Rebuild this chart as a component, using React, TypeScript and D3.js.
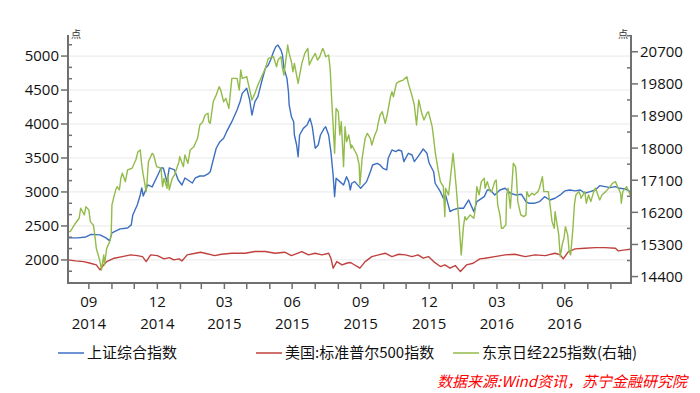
import React from "react";
import * as d3 from "d3";

// 上证综合指数 (left axis)
const shanghai: [string, number][] = [
  ["2014-09-02", 2324], ["2014-09-15", 2324], ["2014-09-26", 2338], ["2014-10-03", 2375], ["2014-10-15", 2368],
  ["2014-10-23", 2324], ["2014-10-28", 2280], ["2014-10-31", 2397], ["2014-11-11", 2456], ["2014-11-21", 2470],
  ["2014-11-26", 2515], ["2014-11-28", 2662], ["2014-12-04", 2809], ["2014-12-08", 2956], ["2014-12-10", 3059],
  ["2014-12-12", 2941], ["2014-12-18", 3103], ["2014-12-24", 3074], ["2014-12-31", 3235], ["2015-01-05", 3353],
  ["2015-01-08", 3353], ["2015-01-13", 3147], ["2015-01-16", 3353], ["2015-01-23", 3324], ["2015-01-28", 3176],
  ["2015-02-02", 3103], ["2015-02-06", 3206], ["2015-02-16", 3132], ["2015-02-20", 3206], ["2015-02-26", 3235],
  ["2015-03-04", 3235], ["2015-03-09", 3265], ["2015-03-12", 3298], ["2015-03-16", 3471], ["2015-03-20", 3643],
  ["2015-03-25", 3740], ["2015-03-30", 3790], ["2015-04-03", 3887], ["2015-04-10", 4034], ["2015-04-17", 4206],
  ["2015-04-21", 4328], ["2015-04-24", 4451], ["2015-04-30", 4525], ["2015-05-04", 4353], ["2015-05-07", 4132],
  ["2015-05-11", 4328], ["2015-05-15", 4402], ["2015-05-20", 4622], ["2015-05-25", 4819], ["2015-05-29", 4868],
  ["2015-06-01", 4941], ["2015-06-05", 5063], ["2015-06-08", 5137], ["2015-06-11", 5162], ["2015-06-15", 5088],
  ["2015-06-17", 5015], ["2015-06-19", 4819], ["2015-06-23", 4672], ["2015-06-25", 4475], ["2015-06-26", 4279],
  ["2015-06-29", 4107], ["2015-07-02", 4034], ["2015-07-03", 3838], ["2015-07-06", 3691], ["2015-07-08", 3519],
  ["2015-07-10", 3838], ["2015-07-15", 3936], ["2015-07-20", 3985], ["2015-07-24", 4083], ["2015-07-27", 3961],
  ["2015-07-31", 3643], ["2015-08-04", 3691], ["2015-08-07", 3838], ["2015-08-12", 3936], ["2015-08-14", 3961],
  ["2015-08-18", 3838], ["2015-08-21", 3593], ["2015-08-24", 3250], ["2015-08-26", 2931], ["2015-08-28", 3201],
  ["2015-09-02", 3152], ["2015-09-07", 3103], ["2015-09-11", 3225], ["2015-09-14", 3152], ["2015-09-16", 3029],
  ["2015-09-18", 3128], ["2015-09-22", 3152], ["2015-09-28", 3078], ["2015-09-30", 3054], ["2015-10-08", 3152],
  ["2015-10-13", 3298], ["2015-10-16", 3397], ["2015-10-22", 3422], ["2015-10-26", 3397], ["2015-10-30", 3348],
  ["2015-11-04", 3324], ["2015-11-06", 3495], ["2015-11-11", 3618], ["2015-11-16", 3593], ["2015-11-20", 3618],
  ["2015-11-24", 3603], ["2015-11-27", 3446], ["2015-12-03", 3569], ["2015-12-08", 3544], ["2015-12-11", 3446],
  ["2015-12-16", 3519], ["2015-12-23", 3632], ["2015-12-28", 3569], ["2015-12-31", 3422], ["2016-01-06", 3298],
  ["2016-01-08", 3128], ["2016-01-15", 3004], ["2016-01-19", 2907], ["2016-01-22", 2956], ["2016-01-28", 2710],
  ["2016-02-01", 2735], ["2016-02-08", 2760], ["2016-02-15", 2760], ["2016-02-22", 2882], ["2016-02-26", 2784],
  ["2016-02-29", 2710], ["2016-03-04", 2857], ["2016-03-14", 2931], ["2016-03-18", 3029], ["2016-03-22", 3029],
  ["2016-03-28", 2956], ["2016-04-04", 3029], ["2016-04-11", 3054], ["2016-04-18", 2981], ["2016-04-25", 2956],
  ["2016-05-03", 2966], ["2016-05-09", 2857], ["2016-05-13", 2833], ["2016-05-20", 2833], ["2016-05-27", 2857],
  ["2016-06-03", 2931], ["2016-06-10", 2882], ["2016-06-17", 2907], ["2016-06-24", 2956], ["2016-06-30", 3015],
  ["2016-07-07", 3029], ["2016-07-14", 3015], ["2016-07-21", 3029], ["2016-07-27", 2981], ["2016-08-03", 3004],
  ["2016-08-10", 3029], ["2016-08-16", 3093], ["2016-08-23", 3078], ["2016-08-30", 3063], ["2016-09-06", 3078],
  ["2016-09-12", 3054], ["2016-09-19", 3044], ["2016-09-26", 3004],
];

// 美国:标准普尔500指数 (left axis)
const sp500: [string, number][] = [
  ["2014-09-02", 2000], ["2014-09-12", 1985], ["2014-09-23", 1975], ["2014-10-02", 1951], ["2014-10-10", 1926],
  ["2014-10-15", 1853], ["2014-10-20", 1926], ["2014-10-24", 1975], ["2014-11-03", 2025], ["2014-11-14", 2049],
  ["2014-11-25", 2074], ["2014-12-04", 2063], ["2014-12-11", 2049], ["2014-12-16", 1975], ["2014-12-22", 2074],
  ["2014-12-31", 2063], ["2015-01-09", 2015], ["2015-01-16", 2034], ["2015-01-22", 2000], ["2015-01-29", 2015],
  ["2015-02-02", 1985], ["2015-02-09", 2074], ["2015-02-20", 2098], ["2015-02-27", 2113], ["2015-03-05", 2098],
  ["2015-03-18", 2063], ["2015-03-27", 2083], ["2015-04-10", 2098], ["2015-04-28", 2098], ["2015-05-11", 2123],
  ["2015-05-25", 2123], ["2015-06-07", 2098], ["2015-06-20", 2113], ["2015-06-29", 2063], ["2015-07-13", 2123],
  ["2015-07-22", 2074], ["2015-07-31", 2098], ["2015-08-09", 2074], ["2015-08-18", 2098], ["2015-08-21", 2025],
  ["2015-08-24", 1878], ["2015-08-29", 1975], ["2015-09-05", 1926], ["2015-09-11", 1951], ["2015-09-16", 1961],
  ["2015-09-18", 1951], ["2015-09-29", 1878], ["2015-10-06", 1975], ["2015-10-15", 2049], ["2015-10-24", 2074],
  ["2015-11-02", 2098], ["2015-11-11", 2049], ["2015-11-20", 2083], ["2015-11-29", 2074], ["2015-12-08", 2049],
  ["2015-12-16", 2074], ["2015-12-23", 2025], ["2015-12-30", 2049], ["2016-01-06", 1975], ["2016-01-15", 1902],
  ["2016-01-21", 1926], ["2016-01-28", 1878], ["2016-02-04", 1917], ["2016-02-11", 1828], ["2016-02-19", 1926],
  ["2016-02-28", 1951], ["2016-03-08", 2015], ["2016-03-15", 2025], ["2016-03-28", 2049], ["2016-04-11", 2074],
  ["2016-04-24", 2083], ["2016-05-08", 2049], ["2016-05-21", 2074], ["2016-06-04", 2063], ["2016-06-17", 2098],
  ["2016-06-24", 2074], ["2016-06-28", 2015], ["2016-07-05", 2123], ["2016-07-14", 2162], ["2016-07-27", 2172],
  ["2016-08-10", 2181], ["2016-08-23", 2181], ["2016-09-06", 2172], ["2016-09-10", 2132], ["2016-09-19", 2147],
  ["2016-09-26", 2157],
];

// 东京日经225指数 (right axis)
const nikkei: [string, number][] = [
  ["2014-09-02", 15660], ["2014-09-05", 15660], ["2014-09-12", 15895], ["2014-09-17", 16035], ["2014-09-19", 16315],
  ["2014-09-24", 16128], ["2014-09-26", 16360], ["2014-09-30", 16268], ["2014-10-02", 15940], ["2014-10-06", 15848],
  ["2014-10-08", 15568], ["2014-10-10", 15195], ["2014-10-15", 14820], ["2014-10-17", 14588], ["2014-10-20", 15008],
  ["2014-10-21", 14728], ["2014-10-24", 15195], ["2014-10-28", 15380], ["2014-10-30", 15568], ["2014-10-31", 16408],
  ["2014-11-05", 16828], ["2014-11-07", 16920], ["2014-11-10", 16828], ["2014-11-12", 17155], ["2014-11-14", 17295],
  ["2014-11-18", 17060], ["2014-11-21", 17388], ["2014-11-27", 17435], ["2014-12-02", 17668], ["2014-12-05", 17900],
  ["2014-12-08", 17948], ["2014-12-10", 17528], ["2014-12-12", 17248], ["2014-12-16", 16780], ["2014-12-17", 17015],
  ["2014-12-19", 17620], ["2014-12-24", 17855], ["2014-12-26", 17808], ["2014-12-30", 17480], ["2015-01-05", 17435],
  ["2015-01-06", 17155], ["2015-01-07", 16920], ["2015-01-09", 17155], ["2015-01-13", 16875], ["2015-01-14", 17248],
  ["2015-01-16", 16828], ["2015-01-20", 17155], ["2015-01-23", 17248], ["2015-01-29", 17620], ["2015-01-30", 17760],
  ["2015-02-04", 17480], ["2015-02-06", 17808], ["2015-02-10", 17575], ["2015-02-13", 17948], ["2015-02-18", 18040],
  ["2015-02-23", 18275], ["2015-02-26", 18648], ["2015-03-02", 18740], ["2015-03-05", 18928], ["2015-03-09", 18975],
  ["2015-03-10", 18740], ["2015-03-12", 18695], ["2015-03-16", 19300], ["2015-03-20", 19488], ["2015-03-24", 19720],
  ["2015-03-26", 19628], ["2015-03-30", 19300], ["2015-04-02", 19395], ["2015-04-06", 19115], ["2015-04-10", 19955],
  ["2015-04-17", 19955], ["2015-04-20", 19628], ["2015-04-22", 20188], ["2015-04-24", 19955], ["2015-04-30", 20000],
  ["2015-05-04", 19628], ["2015-05-07", 19348], ["2015-05-11", 19535], ["2015-05-15", 19768], ["2015-05-20", 20000],
  ["2015-05-25", 20235], ["2015-05-29", 20515], ["2015-06-05", 20560], ["2015-06-09", 20280], ["2015-06-11", 20468],
  ["2015-06-15", 20560], ["2015-06-17", 20235], ["2015-06-19", 20048], ["2015-06-24", 20888], ["2015-06-26", 20655],
  ["2015-06-29", 20420], ["2015-07-01", 20140], ["2015-07-03", 20375], ["2015-07-08", 19815], ["2015-07-13", 20375],
  ["2015-07-17", 20655], ["2015-07-21", 20795], ["2015-07-23", 20328], ["2015-07-27", 20515], ["2015-07-31", 20655],
  ["2015-08-03", 20468], ["2015-08-06", 20560], ["2015-08-10", 20795], ["2015-08-12", 20700], ["2015-08-14", 20560],
  ["2015-08-18", 20608], ["2015-08-20", 20235], ["2015-08-22", 19395], ["2015-08-24", 18648], ["2015-08-26", 17855],
  ["2015-08-28", 19115], ["2015-08-31", 19020], ["2015-09-02", 18368], ["2015-09-04", 18740], ["2015-09-07", 17480],
  ["2015-09-09", 18600], ["2015-09-11", 18180], ["2015-09-14", 18368], ["2015-09-17", 17995], ["2015-09-18", 18088],
  ["2015-09-25", 17808], ["2015-09-28", 17528], ["2015-09-29", 16968], ["2015-10-02", 17715], ["2015-10-06", 18275],
  ["2015-10-09", 18415], ["2015-10-13", 18275], ["2015-10-15", 18088], ["2015-10-19", 18368], ["2015-10-22", 18508],
  ["2015-10-23", 18648], ["2015-10-26", 18928], ["2015-10-29", 19020], ["2015-11-02", 18695], ["2015-11-05", 18975],
  ["2015-11-09", 19440], ["2015-11-11", 19580], ["2015-11-13", 19440], ["2015-11-17", 19815], ["2015-11-20", 19860],
  ["2015-11-26", 19908], ["2015-12-01", 20000], ["2015-12-03", 19815], ["2015-12-07", 19535], ["2015-12-10", 19300],
  ["2015-12-11", 19208], ["2015-12-14", 18648], ["2015-12-17", 19348], ["2015-12-21", 18975], ["2015-12-24", 18788],
  ["2015-12-28", 18975], ["2015-12-30", 19020], ["2016-01-04", 18600], ["2016-01-06", 18275], ["2016-01-08", 17900],
  ["2016-01-12", 17388], ["2016-01-15", 17060], ["2016-01-19", 16920], ["2016-01-21", 16080], ["2016-01-22", 16875],
  ["2016-01-26", 16688], ["2016-01-28", 17060], ["2016-02-01", 17855], ["2016-02-03", 17435], ["2016-02-05", 16968],
  ["2016-02-09", 15940], ["2016-02-12", 15008], ["2016-02-15", 15800], ["2016-02-17", 16080], ["2016-02-19", 15988],
  ["2016-02-24", 16128], ["2016-02-29", 16035], ["2016-03-02", 16315], ["2016-03-04", 16920], ["2016-03-07", 16688],
  ["2016-03-10", 17060], ["2016-03-14", 17155], ["2016-03-15", 16875], ["2016-03-18", 17060], ["2016-03-22", 16780],
  ["2016-03-24", 16780], ["2016-03-28", 17060], ["2016-03-30", 17108], ["2016-04-01", 16408], ["2016-04-04", 16128],
  ["2016-04-06", 15755], ["2016-04-08", 15755], ["2016-04-12", 15848], ["2016-04-13", 16688], ["2016-04-15", 16875],
  ["2016-04-18", 16315], ["2016-04-22", 17575], ["2016-04-25", 17480], ["2016-04-26", 17248], ["2016-04-28", 16500],
  ["2016-05-02", 16128], ["2016-05-06", 16080], ["2016-05-09", 16128], ["2016-05-10", 16780], ["2016-05-13", 16640],
  ["2016-05-17", 16735], ["2016-05-20", 16688], ["2016-05-25", 16780], ["2016-05-27", 16875], ["2016-05-31", 17200],
  ["2016-06-02", 16780], ["2016-06-06", 16780], ["2016-06-08", 16780], ["2016-06-10", 16455], ["2016-06-13", 15940],
  ["2016-06-16", 15755], ["2016-06-17", 16220], ["2016-06-22", 15568], ["2016-06-24", 14960], ["2016-06-27", 15335],
  ["2016-06-29", 15475], ["2016-07-01", 15800], ["2016-07-04", 15568], ["2016-07-06", 15100], ["2016-07-08", 15008],
  ["2016-07-11", 15755], ["2016-07-13", 16408], ["2016-07-15", 16688], ["2016-07-19", 16780], ["2016-07-21", 16688],
  ["2016-07-22", 16595], ["2016-07-27", 16780], ["2016-07-29", 16455], ["2016-08-01", 16688], ["2016-08-04", 16500],
  ["2016-08-08", 16780], ["2016-08-10", 16875], ["2016-08-12", 16780], ["2016-08-16", 16548], ["2016-08-19", 16688],
  ["2016-08-24", 16780], ["2016-08-30", 16920], ["2016-09-02", 17015], ["2016-09-06", 17060], ["2016-09-09", 16920],
  ["2016-09-13", 16735], ["2016-09-14", 16455], ["2016-09-16", 16780], ["2016-09-21", 16920], ["2016-09-26", 16688],
];

const leftTicks = [2000, 2500, 3000, 3500, 4000, 4500, 5000];
const rightTicks = [14400, 15300, 16200, 17100, 18000, 18900, 19800, 20700];
// quarter-end labels on the date axis
const quarterTicks = ["2014-09-30", "2014-12-31", "2015-03-31", "2015-06-30", "2015-09-30", "2015-12-31", "2016-03-31", "2016-06-30"];

const legendItems = [
  { name: "上证综合指数", color: "#3d6fc0", x: 58 },
  { name: "美国:标准普尔500指数", color: "#c0403c", x: 256 },
  { name: "东京日经225指数(右轴)", color: "#93bb4a", x: 453 },
];

const W = 700, H = 393;
const plot = { left: 68, right: 631, top: 35, bottom: 283 };
const axisColor = "#707070";
const font = "'Open Sans', 'Noto Sans CJK SC', sans-serif";
const cjk = "'Noto Sans CJK SC', 'Open Sans', sans-serif";

export default function App() {
  const parse = d3.timeParse("%Y-%m-%d");
  const x = d3.scaleTime()
    .domain([parse("2014-09-02")!, parse("2016-09-27")!])
    .range([plot.left, plot.right]);
  const yL = d3.scaleLinear().domain([1660, 5310]).range([plot.bottom, plot.top]);
  const yR = d3.scaleLinear().domain([14220, 21170]).range([plot.bottom, plot.top]);

  const lineL = d3.line<[string, number]>().x(d => x(parse(d[0])!)).y(d => yL(d[1]));
  const lineR = d3.line<[string, number]>().x(d => x(parse(d[0])!)).y(d => yR(d[1]));

  // month-end ticks
  const monthEnds = d3.timeMonth
    .range(new Date(2014, 8, 1), new Date(2016, 8, 1))
    .map(m => d3.timeDay.offset(d3.timeMonth.offset(m, 1), -1));

  const leftMinor = leftTicks.concat([1500])
    .flatMap(v => [v + 500 / 3, v + 1000 / 3])
    .filter(v => v > 1700 && v < 5300);
  const rightMinor = rightTicks.map(v => v + 450).filter(v => v < 21170);

  return (
    <svg width={W} height={H} style={{ position: "absolute", left: 0, top: 0, background: "#fff" }}>
      {/* gridlines */}
      {leftTicks.map(v => (
        <line key={"g" + v} x1={plot.left} x2={plot.right} y1={yL(v)} y2={yL(v)} stroke="#e8e8e8" strokeWidth={1} />
      ))}

      {/* series */}
      <path d={lineL(shanghai) ?? ""} fill="none" stroke={legendItems[0].color} strokeWidth={1.4} strokeLinejoin="round" />
      <path d={lineL(sp500) ?? ""} fill="none" stroke={legendItems[1].color} strokeWidth={1.4} strokeLinejoin="round" />
      <path d={lineR(nikkei) ?? ""} fill="none" stroke={legendItems[2].color} strokeWidth={1.4} strokeLinejoin="round" />

      {/* axes */}
      <line x1={plot.left} x2={plot.left} y1={plot.top} y2={plot.bottom} stroke={axisColor} strokeWidth={2} />
      <line x1={plot.right} x2={plot.right} y1={plot.top} y2={plot.bottom} stroke={axisColor} strokeWidth={2} />
      <line x1={plot.left - 1} x2={plot.right + 1} y1={plot.bottom} y2={plot.bottom} stroke={axisColor} strokeWidth={2} />

      {leftTicks.map(v => (
        <g key={"l" + v}>
          <line x1={plot.left - 7} x2={plot.left} y1={yL(v)} y2={yL(v)} stroke={axisColor} strokeWidth={1.5} />
          <text x={plot.left - 9} y={yL(v)} dy="0.36em" textAnchor="end" fontSize={15} fontFamily={font} fill="#111">{v}</text>
        </g>
      ))}
      {leftMinor.map(v => (
        <line key={"lm" + v} x1={plot.left} x2={plot.left + 4} y1={yL(v)} y2={yL(v)} stroke={axisColor} strokeWidth={1.5} />
      ))}

      {rightTicks.map(v => (
        <g key={"r" + v}>
          <line x1={plot.right} x2={plot.right + 7} y1={yR(v)} y2={yR(v)} stroke={axisColor} strokeWidth={1.5} />
          <text x={plot.right + 9} y={yR(v)} dy="0.36em" textAnchor="start" fontSize={15} fontFamily={font} fill="#111">{v}</text>
        </g>
      ))}
      {rightMinor.map(v => (
        <line key={"rm" + v} x1={plot.right - 4} x2={plot.right} y1={yR(v)} y2={yR(v)} stroke={axisColor} strokeWidth={1.5} />
      ))}

      {monthEnds.map(d => (
        <line key={"m" + d.getTime()} x1={x(d)} x2={x(d)} y1={plot.bottom} y2={plot.bottom + 6} stroke={axisColor} strokeWidth={1.5} />
      ))}
      {quarterTicks.map(s => {
        const d = parse(s)!;
        return (
          <g key={"q" + s}>
            <text x={x(d)} y={307} textAnchor="middle" fontSize={15} fontFamily={font} fill="#111">{d3.timeFormat("%m")(d)}</text>
            <text x={x(d)} y={329} textAnchor="middle" fontSize={15} fontFamily={font} fill="#111">{d3.timeFormat("%Y")(d)}</text>
          </g>
        );
      })}

      {/* unit labels */}
      <text x={plot.left + 3} y={38} fontSize={10} fontFamily={cjk} fill="#333">点</text>
      <text x={plot.right - 3} y={38} textAnchor="end" fontSize={10} fontFamily={cjk} fill="#333">点</text>

      {/* legend */}
      {legendItems.map(item => (
        <g key={item.name}>
          <line x1={item.x} x2={item.x + 26} y1={353} y2={353} stroke={item.color} strokeWidth={1.5} />
          <text x={item.x + 29} y={358} fontSize={15} fontFamily={cjk} fill="#111">{item.name}</text>
        </g>
      ))}

      <text x={687} y={387} textAnchor="end" fontSize={15} fontStyle="italic" fontFamily={cjk} fill="#ff0000">
        数据来源:Wind资讯，苏宁金融研究院
      </text>
    </svg>
  );
}
